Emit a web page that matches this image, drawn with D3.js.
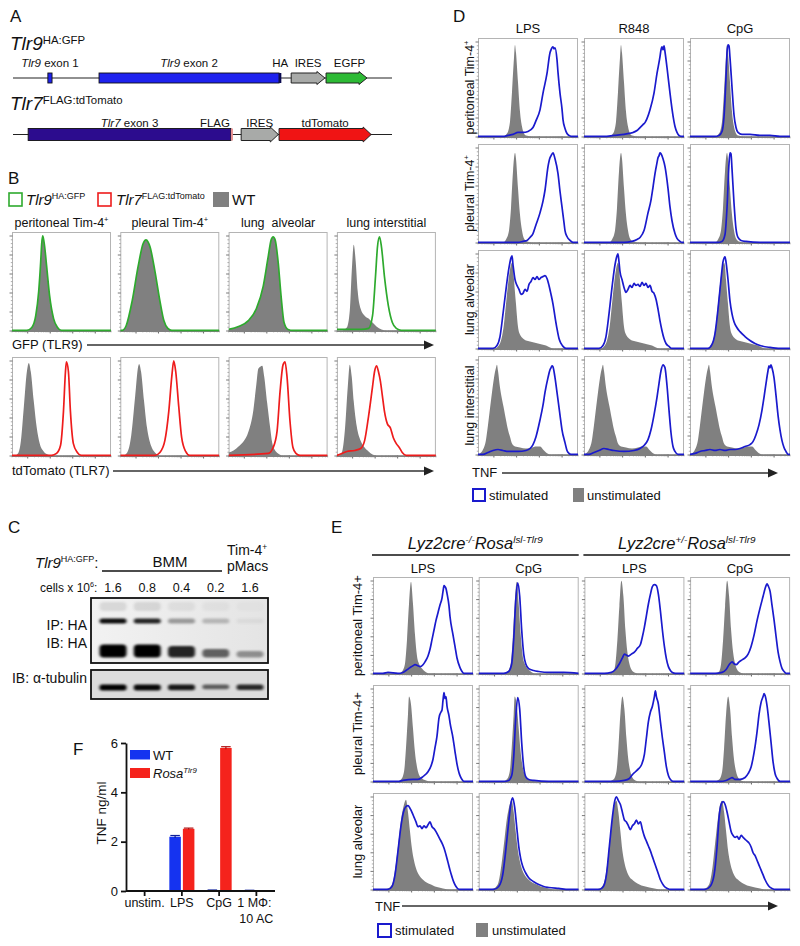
<!DOCTYPE html>
<html><head><meta charset="utf-8">
<script src="https://cdn.jsdelivr.net/npm/d3@7"></script>
<style>
body{margin:0;background:#fff}
svg{display:block}
text{font-family:"Liberation Sans",Arial,Helvetica,sans-serif;fill:#111;white-space:pre}
</style>
</head><body><script>
// ================= DATA =================
// Panel A: gene maps (relative positions along construct, 0-100)
const tlr9Names  = ["<i>Tlr9</i> exon 1","<i>Tlr9</i> exon 2","HA","IRES","EGFP"];
const tlr9Starts = [9.2, 22.7, 70.2, 73.4, 82.6];
const tlr9Ends   = [10.3, 70.2, 70.8, 82.3, 93.4];
const tlr9Kinds  = ["exon","exon","tagHA","ires","gfp"];
const tlr7Names  = ["<i>Tlr7</i> exon 3","FLAG","IRES","tdTomato"];
const tlr7Starts = [4.0, 57.5, 60.2, 70.2];
const tlr7Ends   = [57.5, 58.0, 70.0, 94.5];
const tlr7Kinds  = ["exon7","tagFLAG","ires","tomato"];

// Panel B: flow histograms (x: 0-100 of log scale, y: % of max)
const bTitles = ["peritoneal Tim-4<sup>+</sup>","pleural Tim-4<sup>+</sup>","lung  alveolar","lung interstitial"];
const gfpPer   = [0,0, 15,0, 20,3, 24,15, 27,40, 29,70, 30,88, 31,96, 32,92, 33,85, 35,65, 38,35, 42,12, 46,3, 50,0, 100,0];
const gfpPle   = [0,0, 2,0, 6,5, 12,30, 18,65, 23,88, 26,92, 28,90, 30,85, 35,60, 40,30, 44,10, 48,2, 52,0, 100,0];
const gfpAlv   = [0,1, 10,4, 20,10, 28,22, 35,45, 40,75, 43,92, 45,95, 47,92, 50,70, 53,35, 56,8, 60,1, 65,0, 100,0];
const gfpIntWT = [0,0, 5,0, 10,3, 13,20, 15,60, 17,87, 19,70, 21,40, 24,22, 28,15, 32,12, 36,8, 40,4, 45,1, 50,0, 100,0];
const gfpIntKI = [0,1, 25,1, 32,2, 36,15, 39,55, 41,85, 43,95, 45,85, 48,55, 52,25, 56,8, 60,2, 65,0, 100,0];
const tomPerWT = [0,0, 3,0, 6,2, 9,15, 12,50, 15,85, 17,94, 19,85, 22,55, 25,28, 28,12, 32,4, 36,1, 40,0, 100,0];
const tomPerKI = [0,0, 40,0, 45,2, 49,10, 52,45, 54,85, 55,95, 57,85, 59,45, 62,12, 66,3, 70,0, 100,0];
const tomPleWT = [0,0, 3,0, 7,3, 11,20, 15,60, 18,90, 19,93, 21,85, 24,55, 27,28, 31,10, 35,3, 40,0, 100,0];
const tomPleKI = [0,0, 35,0, 40,3, 45,15, 49,45, 52,80, 54,96, 56,85, 59,50, 62,18, 66,4, 70,0, 100,0];
const tomAlvWT = [0,3, 5,5, 10,9, 15,14, 20,24, 25,46, 28,72, 30,88, 32,90, 34,91, 36,80, 39,53, 42,28, 44,13, 47,5, 50,2, 54,0, 100,0];
const tomAlvKI = [0,0, 40,2, 45,8, 49,25, 52,65, 55,92, 57,95, 59,80, 62,35, 65,8, 68,2, 72,0, 100,0];
const tomIntWT = [0,0, 2,0, 5,3, 8,25, 11,70, 13,92, 15,80, 17,55, 20,30, 24,15, 28,8, 32,4, 36,1, 40,0, 100,0];
const tomIntKI = [0,0, 5,2, 10,4, 18,5, 24,7, 28,15, 32,40, 36,70, 38,85, 40,91, 42,85, 44,75, 46,60, 48,45, 51,32, 54,28, 57,18, 60,12, 63,8, 66,3, 70,0, 100,0];
const bGfpWT  = [gfpPer, gfpPle, gfpAlv, gfpIntWT];
const bGfpKI  = [gfpPer, gfpPle, gfpAlv, gfpIntKI];
const bTomWT  = [tomPerWT, tomPleWT, tomAlvWT, tomIntWT];
const bTomKI  = [tomPerKI, tomPleKI, tomAlvKI, tomIntKI];

// Panel C: western blot
const cLanes = ["1.6","0.8","0.4","0.2","1.6"];
const cSmear = [0.10, 0.10, 0.06, 0.04, 0.02];
const cUpper = [0.95, 0.85, 0.35, 0.22, 0.05];
const cLower = [1.0, 1.0, 0.80, 0.45, 0.18];
const cTubulin = [1.0, 0.95, 0.85, 0.40, 0.75];

// Panel D
const dCols = ["LPS","R848","CpG"];
const dRows = ["peritoneal Tim-4<sup>+</sup>","pleural Tim-4<sup>+</sup>","lung alveolar","lung interstitial"];
const dGrayPer = [0,0, 25,0, 29,3, 32,15, 34,45, 36,80, 37,93, 38,85, 40,55, 42,25, 44,10, 46,3, 48,1, 55,0, 100,0];
const dGrayPle = [0,0, 25,0, 28,3, 31,12, 33,35, 35,72, 37,91, 38,85, 40,55, 42,28, 44,12, 46,4, 49,1, 55,0, 100,0];
const dGrayAlv = [0,0, 17,0, 20,2, 23,8, 26,25, 28,45, 30,65, 32,80, 34,87, 35,84, 36,70, 38,45, 40,22, 42,14, 44,11, 48,8, 52,7, 56,6, 60,5, 64,4, 68,3, 72,1, 76,0, 100,0];
const dGrayInt = [0,0, 2,1, 5,5, 8,15, 10,30, 13,55, 16,78, 18,88, 19,91, 20,85, 22,68, 24,56, 26,46, 28,35, 30,25, 32,18, 34,11, 37,8, 42,7, 48,6, 54,7, 58,8, 62,8, 65,5, 68,2, 72,0, 100,0];
const dPerLPS  = [0,0, 25,0, 30,1, 35,2, 40,4, 45,4, 50,5, 55,9, 58,16, 62,27, 65,44, 69,64, 72,85, 73,88, 74,90, 75,91, 76,89, 77,90, 79,78, 80,65, 82,44, 84,28, 85,17, 87,8, 89,3, 91,1, 93,0, 100,0];
const dPerR848 = [0,0, 20,0, 30,1, 40,2, 45,3, 49,4, 53,6, 56,9, 59,12, 61,14, 63,18, 66,27, 70,44, 73,64, 76,81, 77,88, 78,91, 79,88, 80,92, 81,86, 83,70, 86,44, 88,28, 90,15, 91,10, 93,4, 95,1, 98,0, 100,0];
const dPerCpG  = [0,0, 25,0, 29,1, 32,5, 34,20, 36,60, 37,85, 38,93, 39,92, 40,80, 42,50, 44,22, 46,9, 48,4, 52,2, 60,2, 70,1, 80,1, 90,0, 100,0];
const dPleLPS  = [0,0, 40,0, 45,1, 49,2, 52,5, 55,9, 58,18, 62,30, 65,42, 67,53, 70,77, 72,86, 73,88, 75,91, 77,85, 80,70, 82,52, 84,36, 86,20, 87,12, 89,6, 92,2, 95,0, 100,0];
const dPleR848 = [0,0, 40,0, 48,1, 53,3, 56,5, 60,12, 64,30, 67,43, 69,56, 71,70, 73,81, 74,86, 75,88, 76,91, 77,90, 79,85, 81,77, 84,55, 86,36, 88,22, 91,9, 93,4, 96,1, 98,0, 100,0];
const dPleCpG  = [0,0, 28,0, 32,1, 35,8, 37,35, 39,80, 40,91, 41,90, 42,75, 44,40, 46,14, 48,5, 51,2, 56,1, 70,0, 100,0];
const dAlvLPS  = [0,0, 15,0, 19,3, 22,12, 25,35, 28,60, 31,82, 33,92, 34,94, 35,85, 37,70, 39,64, 41,60, 43,55, 45,56, 47,60, 49,58, 51,65, 53,68, 55,72, 57,70, 59,73, 61,70, 63,72, 65,73, 67,74, 69,71, 71,64, 73,55, 75,45, 77,32, 79,20, 81,10, 83,5, 85,2, 88,0, 100,0];
const dAlvR848 = [0,0, 15,0, 19,3, 22,12, 25,35, 28,62, 31,85, 33,94, 34,96, 35,88, 36,78, 38,70, 40,62, 42,57, 44,60, 46,64, 48,62, 50,66, 52,64, 54,65, 56,63, 58,67, 60,64, 62,66, 64,62, 66,64, 68,58, 70,56, 72,50, 74,40, 76,28, 78,18, 80,10, 82,5, 85,2, 88,0, 100,0];
const dAlvCpG  = [0,0, 18,0, 22,4, 25,15, 28,40, 31,70, 33,88, 35,93, 36,88, 38,70, 40,48, 42,35, 44,27, 47,21, 50,17, 55,12, 60,8, 65,5, 70,3, 80,1, 90,0, 100,0];
const dIntLPS  = [0,0, 5,0, 10,2, 15,4, 20,5, 25,4, 30,3, 40,3, 48,4, 52,6, 55,10, 58,18, 62,35, 65,50, 67,63, 70,78, 72,86, 73,88, 74,90, 75,89, 77,78, 79,63, 82,40, 84,25, 87,12, 89,4, 91,1, 93,0, 100,0];
const dIntR848 = [0,0, 5,0, 10,2, 15,4, 20,6, 25,5, 30,4, 40,3, 50,4, 56,6, 60,9, 64,15, 67,25, 70,40, 73,58, 75,72, 77,85, 79,91, 80,90, 81,88, 83,70, 85,45, 87,22, 89,8, 91,3, 94,0, 100,0];
const dIntCpG  = [0,0, 5,1, 10,3, 15,4, 20,5, 25,4, 30,5, 35,4, 40,5, 45,5, 50,6, 55,8, 60,10, 63,13, 66,20, 69,30, 72,45, 74,58, 76,72, 78,85, 79,90, 80,88, 81,91, 82,88, 84,78, 86,60, 88,40, 90,25, 92,14, 94,7, 96,3, 98,0, 100,0];
const dGray = [dGrayPer, dGrayPle, dGrayAlv, dGrayInt];
const dStim = [[dPerLPS, dPerR848, dPerCpG],[dPleLPS, dPleR848, dPleCpG],[dAlvLPS, dAlvR848, dAlvCpG],[dIntLPS, dIntR848, dIntCpG]];

// Panel E
const eGenotypes = ["<i>Lyz2cre<sup>-/-</sup>Rosa<sup>lsl-Tlr9</sup></i>","<i>Lyz2cre<sup>+/-</sup>Rosa<sup>lsl-Tlr9</sup></i>"];
const eCols = ["LPS","CpG","LPS","CpG"];
const eRows = ["peritoneal Tim-4+","pleural Tim-4+","lung alveolar"];
const eGrayPerKO  = [0,0, 26,0, 29,2, 32,10, 34,35, 36,72, 38,95, 40,72, 42,40, 44,18, 46,10, 49,5, 52,2, 56,0, 100,0];
const eGrayPerHet = [0,0, 25,0, 29,2, 31,10, 33,35, 35,70, 37,96, 39,80, 41,45, 43,22, 45,10, 47,4, 50,1, 54,0, 100,0];
const eGrayPleKO  = [0,0, 24,0, 28,2, 31,10, 33,35, 35,70, 36,88, 38,80, 40,55, 42,30, 44,15, 46,7, 49,3, 53,1, 58,0, 100,0];
const eGrayPleHet = [0,0, 24,0, 29,2, 32,10, 34,35, 36,70, 38,88, 40,75, 42,45, 44,22, 46,10, 48,4, 51,1, 55,0, 100,0];
const eGrayAlvKO  = [0,0, 10,0, 15,1, 19,5, 22,20, 25,45, 28,72, 31,88, 33,93, 35,80, 37,60, 39,42, 41,30, 43,22, 46,15, 50,10, 54,7, 58,5, 62,3, 66,2, 70,1, 75,0, 100,0];
const eGrayAlvHet = [0,0, 10,0, 15,1, 19,5, 22,20, 25,48, 28,75, 30,88, 32,92, 34,80, 36,60, 38,40, 40,28, 42,20, 45,13, 49,9, 53,6, 57,4, 61,3, 65,2, 70,1, 75,0, 100,0];
const ePerLPS_KO  = [0,0, 10,0, 15,1, 25,0, 30,1, 33,3, 37,6, 40,8, 42,9, 45,8, 47,7, 50,9, 52,12, 55,18, 57,25, 59,35, 61,45, 63,55, 65,63, 67,71, 69,78, 70,85, 71,91, 72,90, 73,88, 74,83, 76,70, 77,59, 80,40, 82,28, 84,16, 87,6, 89,2, 91,0, 100,0];
const ePerCpG_KO  = [0,0, 25,0, 30,2, 33,10, 35,35, 37,75, 39,94, 41,80, 43,45, 45,20, 47,10, 50,5, 55,3, 60,2, 70,1, 85,1, 100,0];
const ePerLPS_Het = [0,0, 20,0, 27,1, 31,4, 35,10, 38,16, 40,20, 42,19, 44,18, 47,20, 50,22, 53,26, 56,30, 58,38, 60,48, 62,60, 64,72, 66,82, 68,90, 70,92, 72,91, 74,82, 76,65, 78,45, 80,28, 82,15, 84,7, 86,3, 88,1, 91,0, 100,0];
const ePerCpG_Het = [0,0, 25,0, 32,1, 36,4, 39,9, 42,12, 44,10, 46,9, 49,12, 52,14, 55,16, 58,20, 61,28, 64,40, 67,55, 70,68, 73,80, 75,88, 77,93, 78,91, 80,85, 82,70, 84,55, 86,38, 88,22, 90,12, 92,5, 94,2, 96,0, 100,0];
const ePleLPS_KO  = [0,0, 25,0, 30,1, 40,2, 45,2, 50,5, 55,10, 58,16, 60,23, 62,35, 64,47, 66,66, 68,72, 69,74, 70,84, 71,92, 72,86, 73,88, 74,78, 76,68, 77,61, 80,45, 82,31, 84,18, 86,9, 87,6, 89,2, 91,0, 100,0];
const ePleCpG_KO  = [0,0, 25,0, 30,1, 33,6, 35,25, 37,65, 39,87, 41,75, 43,40, 45,15, 47,5, 50,2, 55,1, 70,0, 100,0];
const ePleLPS_Het = [0,0, 30,0, 40,1, 45,3, 48,7, 51,10, 54,13, 57,17, 60,28, 62,45, 64,62, 66,72, 68,78, 70,88, 71,94, 72,88, 74,80, 76,62, 78,45, 80,30, 82,15, 84,6, 86,2, 89,0, 100,0];
const ePleCpG_Het = [0,0, 30,0, 36,1, 40,3, 42,4, 45,2, 50,2, 55,4, 58,8, 61,15, 64,30, 67,52, 69,70, 71,82, 73,88, 74,91, 75,89, 77,78, 79,60, 81,40, 83,20, 85,8, 87,3, 90,0, 100,0];
const eAlvLPS_KO  = [0,0, 15,0, 19,3, 22,15, 25,40, 28,66, 31,82, 33,86, 35,87, 37,84, 39,80, 41,75, 43,70, 45,65, 47,66, 49,63, 51,66, 53,64, 55,67, 57,70, 59,65, 61,63, 63,60, 65,56, 67,52, 69,48, 71,43, 73,36, 75,28, 77,20, 79,13, 81,7, 83,3, 86,0, 100,0];
const eAlvCpG_KO  = [0,0, 15,0, 20,3, 24,15, 27,40, 30,70, 32,88, 34,95, 36,85, 38,65, 40,45, 42,32, 44,24, 47,17, 50,12, 55,8, 60,5, 65,3, 70,2, 80,1, 90,0, 100,0];
const eAlvLPS_Het = [0,0, 15,0, 19,3, 22,15, 25,45, 28,75, 30,90, 32,96, 34,92, 36,88, 38,80, 40,72, 42,70, 44,66, 46,62, 48,66, 50,68, 52,72, 54,68, 56,70, 58,62, 60,55, 62,50, 64,45, 66,40, 68,34, 70,28, 72,22, 74,16, 76,10, 78,6, 80,3, 83,1, 86,0, 100,0];
const eAlvCpG_Het = [0,0, 15,0, 20,3, 24,15, 27,45, 29,75, 31,88, 33,91, 35,88, 37,80, 39,70, 41,60, 43,56, 45,54, 47,55, 49,52, 51,56, 53,54, 55,52, 57,50, 59,48, 61,44, 63,38, 65,35, 67,30, 69,25, 71,20, 73,15, 75,10, 77,6, 79,3, 82,1, 85,0, 100,0];
const eGray = [[eGrayPerKO, eGrayPerHet],[eGrayPleKO, eGrayPleHet],[eGrayAlvKO, eGrayAlvHet]];
const eStim = [[ePerLPS_KO, ePerCpG_KO, ePerLPS_Het, ePerCpG_Het],
               [ePleLPS_KO, ePleCpG_KO, ePleLPS_Het, ePleCpG_Het],
               [eAlvLPS_KO, eAlvCpG_KO, eAlvLPS_Het, eAlvCpG_Het]];

// Panel F: TNF ELISA
const fCats = ["unstim.","LPS","CpG","1 MΦ:|10 AC"];
const fWT = [0, 2.2, 0.03, 0.02];
const fRosa = [0, 2.52, 5.8, 0];
const fWTerr = [0, 0.05, 0.01, 0.01];
const fRosaErr = [0, 0.03, 0.05, 0];
const fTicks = [0, 2, 4, 6];

// ================= DRAWING =================
const BLUE = "#1a1acd", GRAY = "#808080", GREEN = "#2eaa2e", RED = "#ee1c1c";
const svg = d3.select("body").append("svg").attr("width", 800).attr("height", 946);
svg.append("rect").attr("width", 800).attr("height", 946).attr("fill", "#fff");
const defs = svg.append("defs");
const blur = defs.append("filter").attr("id", "blur").attr("x", "-50%").attr("y", "-150%").attr("width", "200%").attr("height", "400%");
blur.append("feGaussianBlur").attr("stdDeviation", "1.6 1.1");

function rich(g, x, y, markup, size, anchor, opt) {
  opt = opt || {};
  const supShift = opt.supShift || 0.38, supScale = opt.supScale || 0.6;
  const t = g.append("text").attr("x", x).attr("y", y).attr("font-size", size).attr("text-anchor", anchor || "start");
  if (opt.rotate) t.attr("transform", `rotate(-90 ${x} ${y})`);
  const toks = markup.split(/(<\/?i>|<\/?sup>)/).filter(s => s !== "");
  let it = false, sup = false, cur = 0;
  toks.forEach(tok => {
    if (tok === "<i>") { it = true; return; }
    if (tok === "</i>") { it = false; return; }
    if (tok === "<sup>") { sup = true; return; }
    if (tok === "</sup>") { sup = false; return; }
    const s = sup ? -size * supShift : 0;
    const ts = t.append("tspan").text(tok).attr("dy", s - cur);
    cur = s;
    if (it) ts.attr("font-style", "italic");
    if (sup) ts.attr("font-size", size * supScale);
  });
  return t;
}
function letter(x, y, s) { svg.append("text").attr("x", x).attr("y", y).attr("font-size", 17).text(s); }
function arrow(x1, x2, y) {
  svg.append("line").attr("x1", x1).attr("x2", x2 - 8).attr("y1", y).attr("y2", y).attr("stroke", "#333").attr("stroke-width", 1.6);
  svg.append("path").attr("d", `M${x2 - 10},${y - 4.5}L${x2},${y}L${x2 - 10},${y + 4.5}Z`).attr("fill", "#222");
}
const toPts = a => d3.range(0, a.length, 2).map(i => [a[i], a[i + 1]]);
let clipN = 0;
function histPanel(x0, y0, w, h, layers) {
  const g = svg.append("g");
  const x = d3.scaleLinear().domain([0, 100]).range([x0, x0 + w]);
  const y = d3.scaleLinear().domain([0, 100]).range([y0 + h - 0.6, y0]);
  g.append("rect").attr("x", x0 + 0.5).attr("y", y0 + 0.5).attr("width", w - 1).attr("height", h - 1)
    .attr("fill", "none").attr("stroke", "#b4b4b4").attr("stroke-width", 1);
  const yt = d3.scaleLinear().domain([0, 100]).range([y0 + h, y0 + 4]);
  d3.range(0, 101, 4).forEach(v => {
    const major = v % 20 === 0;
    g.append("line").attr("x1", x0 - (major ? 2.5 : 1.2)).attr("x2", x0 + 0.5).attr("y1", yt(v)).attr("y2", yt(v))
      .attr("stroke", major ? "#555" : "#999").attr("stroke-width", 0.8);
  });
  const xl = d3.scaleLog().domain([0.2, 5000]).range([x0, x0 + w]);
  xl.ticks().forEach(v => {
    const major = Math.abs(Math.log10(v) - Math.round(Math.log10(v))) < 1e-9;
    g.append("line").attr("x1", xl(v)).attr("x2", xl(v)).attr("y1", y0 + h - 0.5).attr("y2", y0 + h + (major ? 2.5 : 1.3))
      .attr("stroke", major ? "#444" : "#888").attr("stroke-width", 0.8);
  });
  const id = "clip" + (clipN++);
  defs.append("clipPath").attr("id", id).append("rect").attr("x", x0).attr("y", y0).attr("width", w).attr("height", h + 1.5);
  const inner = g.append("g").attr("clip-path", `url(#${id})`);
  const area = d3.area().x(d => x(d[0])).y0(y0 + h + 1).y1(d => y(d[1])).curve(d3.curveMonotoneX);
  const line = d3.line().x(d => x(d[0])).y(d => y(d[1])).curve(d3.curveMonotoneX);
  layers.forEach(L => {
    if (L.fill) inner.append("path").attr("d", area(toPts(L.data))).attr("fill", L.fill);
    else inner.append("path").attr("d", line(toPts(L.data))).attr("fill", "none").attr("stroke", L.stroke)
      .attr("stroke-width", 1.7).attr("stroke-linejoin", "round");
  });
}

// ---------- Panel A ----------
letter(10, 22, "A");
rich(svg, 10, 50, "<i>Tlr9</i><sup>HA:GFP</sup>", 19, "start", { supShift: 0.33 });
rich(svg, 10, 110, "<i>Tlr7</i><sup>FLAG:tdTomato</sup>", 19, "start", { supShift: 0.33 });
const mapX = d3.scaleLinear().domain([0, 100]).range([13, 392]);
const fillFor = { exon: "#1e22ee", exon7: "#2c0c8e", ires: "#a8aaa8", gfp: "#2dba35", tomato: "#f01414", tagHA: "#0a0a50", tagFLAG: "#e89090" };
function geneMap(names, starts, ends, kinds, yc, hh, labelY) {
  svg.append("line").attr("x1", mapX(0)).attr("x2", mapX(100)).attr("y1", yc).attr("y2", yc).attr("stroke", "#222").attr("stroke-width", 1.1);
  names.forEach((n, i) => {
    const x1 = mapX(starts[i]), x2 = mapX(ends[i]), k = kinds[i];
    if (k === "ires" || k === "gfp" || k === "tomato") {
      const hd = 8;
      svg.append("path").attr("d", `M${x1},${yc - hh}L${x2 - hd},${yc - hh}L${x2 - hd},${yc - hh - 1.5}L${x2},${yc}L${x2 - hd},${yc + hh + 1.5}L${x2 - hd},${yc + hh}L${x1},${yc + hh}Z`)
        .attr("fill", fillFor[k]).attr("stroke", "#222").attr("stroke-width", 1);
    } else if (k.startsWith("tag")) {
      svg.append("rect").attr("x", x1).attr("y", yc - hh).attr("width", Math.max(2, x2 - x1)).attr("height", 2 * hh).attr("fill", fillFor[k]);
    } else {
      svg.append("rect").attr("x", x1).attr("y", yc - hh).attr("width", x2 - x1).attr("height", 2 * hh)
        .attr("fill", fillFor[k]).attr("stroke", "#111").attr("stroke-width", 0.9);
    }
    const anchor = k === "tagFLAG" ? "end" : "middle";
    const lx = k === "tagFLAG" ? x1 - 1 : (x1 + x2) / 2 + (k === "gfp" ? 3 : 0);
    rich(svg, lx, labelY, n, 11.5, anchor);
  });
}
geneMap(tlr9Names, tlr9Starts, tlr9Ends, tlr9Kinds, 78, 5, 67);
geneMap(tlr7Names, tlr7Starts, tlr7Ends, tlr7Kinds, 134.5, 6, 126.5);

// ---------- Panel B ----------
letter(8, 184, "B");
svg.append("rect").attr("x", 9).attr("y", 193).attr("width", 13).attr("height", 13).attr("fill", "none").attr("stroke", GREEN).attr("stroke-width", 1.6);
rich(svg, 26, 205, "<i>Tlr9</i><sup>HA:GFP</sup>", 15, "start");
svg.append("rect").attr("x", 98).attr("y", 193).attr("width", 13).attr("height", 13).attr("fill", "none").attr("stroke", RED).attr("stroke-width", 1.6);
rich(svg, 116, 205, "<i>Tlr7</i><sup>FLAG:tdTomato</sup>", 15, "start");
svg.append("rect").attr("x", 213).attr("y", 192).attr("width", 16).attr("height", 15).attr("fill", GRAY);
rich(svg, 232, 205, "WT", 15, "start");
const bX0 = 12, bStep = 108.3, bW = 99, bH = 99, bRowY = [232, 357];
bTitles.forEach((t, i) => {
  const x0 = bX0 + i * bStep;
  rich(svg, x0 + bW / 2, 227, t, 12.5, "middle");
  histPanel(x0, bRowY[0], bW, bH, [{ fill: GRAY, data: bGfpWT[i] }, { stroke: GREEN, data: bGfpKI[i] }]);
  histPanel(x0, bRowY[1], bW, bH, [{ fill: GRAY, data: bTomWT[i] }, { stroke: RED, data: bTomKI[i] }]);
});
svg.append("text").attr("x", 12).attr("y", 349).attr("font-size", 13).text("GFP (TLR9)");
arrow(87, 434, 345);
svg.append("text").attr("x", 12).attr("y", 475).attr("font-size", 13).text("tdTomato (TLR7)");
arrow(113, 434, 471);

// ---------- Panel C ----------
letter(8, 533, "C");
rich(svg, 35, 568, "<i>Tlr9</i><sup>HA:GFP</sup>:", 15, "start");
svg.append("text").attr("x", 170).attr("y", 567).attr("font-size", 15).attr("text-anchor", "middle").text("BMM");
svg.append("line").attr("x1", 102).attr("x2", 222).attr("y1", 571).attr("y2", 571).attr("stroke", "#111").attr("stroke-width", 1.5);
rich(svg, 227, 555, "Tim-4<sup>+</sup>", 14, "start");
svg.append("text").attr("x", 227).attr("y", 571).attr("font-size", 14).text("pMacs");
rich(svg, 40, 592, "cells x 10<sup>6</sup>:", 12, "start");
const lane = d3.scalePoint().domain(d3.range(cLanes.length)).range([113, 250]);
cLanes.forEach((c, i) => svg.append("text").attr("x", lane(i)).attr("y", 592).attr("font-size", 12.5).attr("text-anchor", "middle").text(c));
const blot1 = { x: 91, y: 598, w: 177, h: 65 }, blot2 = { x: 91, y: 670, w: 177, h: 29 };
const grad = defs.append("linearGradient").attr("id", "blotbg");
grad.append("stop").attr("offset", "0%").attr("stop-color", "#f2f2f2");
grad.append("stop").attr("offset", "100%").attr("stop-color", "#e4e4e4");
svg.append("rect").attr("x", blot1.x).attr("y", blot1.y).attr("width", blot1.w).attr("height", blot1.h).attr("fill", "url(#blotbg)");
svg.append("rect").attr("x", blot2.x).attr("y", blot2.y).attr("width", blot2.w).attr("height", blot2.h).attr("fill", "#dcdcdc");
const bands = svg.append("g").attr("filter", "url(#blur)");
const bandW = 27;
cSmear.forEach((v, i) => bands.append("rect").attr("x", lane(i) - bandW / 2).attr("y", 602).attr("width", bandW).attr("height", 9).attr("rx", 4).attr("fill", "#222").attr("opacity", v));
cUpper.forEach((v, i) => bands.append("rect").attr("x", lane(i) - bandW / 2).attr("y", 618.5).attr("width", bandW).attr("height", 5).attr("rx", 2.5).attr("fill", "#000").attr("opacity", v));
cLower.forEach((v, i) => {
  const hh = 5 + 8 * v;
  bands.append("rect").attr("x", lane(i) - bandW / 2).attr("y", 651 - hh / 2 + (1 - v) * 4).attr("width", bandW).attr("height", hh).attr("rx", 4).attr("fill", "#000").attr("opacity", 0.25 + 0.75 * v);
});
cTubulin.forEach((v, i) => bands.append("rect").attr("x", lane(i) - bandW / 2).attr("y", 684.5).attr("width", bandW).attr("height", 4 + 2 * v).attr("rx", 2.5).attr("fill", "#000").attr("opacity", 0.3 + 0.7 * v));
[blot1, blot2].forEach(b => svg.append("rect").attr("x", b.x).attr("y", b.y).attr("width", b.w).attr("height", b.h).attr("fill", "none").attr("stroke", "#111").attr("stroke-width", 1.8));
svg.append("text").attr("x", 87).attr("y", 630).attr("font-size", 14).attr("text-anchor", "end").text("IP: HA");
svg.append("text").attr("x", 87).attr("y", 648).attr("font-size", 14).attr("text-anchor", "end").text("IB: HA");
svg.append("text").attr("x", 87).attr("y", 683).attr("font-size", 14).attr("text-anchor", "end").text("IB: α-tubulin");

// ---------- Panel D ----------
letter(453, 22, "D");
const dX0 = 478, dStepX = 106, dW = 100, dY0 = 38, dStepY = 106, dH = 99;
dCols.forEach((c, j) => svg.append("text").attr("x", dX0 + j * dStepX + dW / 2).attr("y", 33).attr("font-size", 13).attr("text-anchor", "middle").text(c));
dRows.forEach((r, i) => {
  const y0 = dY0 + i * dStepY;
  rich(svg, 474, y0 + dH / 2, r, 12.5, "middle", { rotate: true });
  dCols.forEach((c, j) => {
    histPanel(dX0 + j * dStepX, y0, dW, dH, [{ fill: GRAY, data: dGray[i] }, { stroke: BLUE, data: dStim[i][j] }]);
  });
});
svg.append("text").attr("x", 472).attr("y", 477).attr("font-size", 13).text("TNF");
arrow(502, 778, 473);
svg.append("rect").attr("x", 473).attr("y", 489).attr("width", 12).attr("height", 12).attr("fill", "none").attr("stroke", BLUE).attr("stroke-width", 2);
svg.append("text").attr("x", 489).attr("y", 500).attr("font-size", 13).text("stimulated");
svg.append("rect").attr("x", 573).attr("y", 488).attr("width", 11).attr("height", 14).attr("fill", GRAY);
svg.append("text").attr("x", 587).attr("y", 500).attr("font-size", 13).text("unstimulated");

// ---------- Panel E ----------
letter(331, 533, "E");
const eX0 = 373, eStepX = 105.7, eW = 100, eY0 = 577, eStepY = 108, eH = 97;
eGenotypes.forEach((gname, k) => {
  const xa = eX0 + 2 * k * eStepX - 1, xb = eX0 + (2 * k + 1) * eStepX + eW;
  svg.append("line").attr("x1", xa).attr("x2", xb).attr("y1", 555).attr("y2", 555).attr("stroke", "#111").attr("stroke-width", 1.5);
  rich(svg, (xa + xb) / 2, 549, gname, 16.5, "middle", { supShift: 0.36, supScale: 0.6 });
});
eCols.forEach((c, j) => svg.append("text").attr("x", eX0 + j * eStepX + eW / 2).attr("y", 573).attr("font-size", 13).attr("text-anchor", "middle").text(c));
eRows.forEach((r, i) => {
  const y0 = eY0 + i * eStepY;
  rich(svg, 362, y0 + eH / 2, r, 13, "middle", { rotate: true });
  eCols.forEach((c, j) => {
    histPanel(eX0 + j * eStepX, y0, eW, eH, [{ fill: GRAY, data: eGray[i][j >> 1] }, { stroke: BLUE, data: eStim[i][j] }]);
  });
});
svg.append("text").attr("x", 375).attr("y", 911).attr("font-size", 13).text("TNF");
arrow(402, 778, 906);
svg.append("rect").attr("x", 378).attr("y", 924).attr("width", 13).attr("height", 13).attr("fill", "none").attr("stroke", BLUE).attr("stroke-width", 2);
svg.append("text").attr("x", 395).attr("y", 935).attr("font-size", 13).text("stimulated");
svg.append("rect").attr("x", 476).attr("y", 923).attr("width", 12).attr("height", 14).attr("fill", GRAY);
svg.append("text").attr("x", 492).attr("y", 935).attr("font-size", 13).text("unstimulated");

// ---------- Panel F ----------
letter(73, 755, "F");
const fx = d3.scaleBand().domain(fCats).range([126, 275]).paddingInner(0).paddingOuter(0);
const fsub = d3.scaleBand().domain(["wt", "rosa"]).range([0, fx.bandwidth()]).paddingInner(0.15).paddingOuter(0.45);
const fy = d3.scaleLinear().domain([0, 6]).range([891, 743]);
const fg = svg.append("g");
const series = [{ key: "wt", vals: fWT, err: fWTerr, color: "#1533f0", dark: "#0d1f9a" }, { key: "rosa", vals: fRosa, err: fRosaErr, color: "#f5231c", dark: "#b01010" }];
series.forEach(s => {
  fCats.forEach((c, i) => {
    const v = s.vals[i];
    if (v <= 0) return;
    const bx = fx(c) + fsub(s.key), bw = fsub.bandwidth();
    fg.append("rect").attr("x", bx).attr("y", fy(v)).attr("width", bw).attr("height", fy(0) - fy(v)).attr("fill", s.color);
    if (s.err[i] > 0) {
      const cx = bx + bw / 2;
      fg.append("line").attr("x1", cx).attr("x2", cx).attr("y1", fy(v + s.err[i])).attr("y2", fy(v - s.err[i])).attr("stroke", s.dark).attr("stroke-width", 1.2);
      fg.append("line").attr("x1", cx - bw / 2 + 1).attr("x2", cx + bw / 2 - 1).attr("y1", fy(v + s.err[i])).attr("y2", fy(v + s.err[i])).attr("stroke", s.dark).attr("stroke-width", 1.2);
    }
  });
});
const yAxis = fg.append("g").attr("transform", "translate(126,0)").call(d3.axisLeft(fy).tickValues(fTicks).tickFormat(d3.format("d")).tickSize(5).tickSizeOuter(0).tickPadding(3));
const xAxis = fg.append("g").attr("transform", "translate(0,891)").call(d3.axisBottom(fx).tickSize(5).tickSizeOuter(0).tickFormat(""));
[yAxis, xAxis].forEach(a => { a.selectAll("path,line").attr("stroke", "#111").attr("stroke-width", 1.8); a.selectAll("text").attr("font-size", 13).attr("fill", "#111").style("font-family", '"Liberation Sans",Arial,sans-serif'); });
xAxis.select(".domain").attr("d", "M126,0H275");
fCats.forEach(c => {
  c.split("|").forEach((ln, k) => fg.append("text").attr("x", fx(c) + fx.bandwidth() / 2 - (k === 0 && c.includes("|") ? 2 : 0)).attr("y", 907 + 16 * k).attr("font-size", 12.5).attr("text-anchor", "middle").text(ln));
});
svg.append("text").attr("transform", "translate(106,813) rotate(-90)").attr("font-size", 13.5).attr("text-anchor", "middle").text("TNF ng/ml");
svg.append("rect").attr("x", 130).attr("y", 750).attr("width", 20).attr("height", 9.5).attr("fill", "#1533f0");
svg.append("text").attr("x", 153).attr("y", 760).attr("font-size", 13).text("WT");
svg.append("rect").attr("x", 130).attr("y", 768).attr("width", 20).attr("height", 10).attr("fill", "#f5231c");
rich(svg, 153, 778, "<i>Rosa</i><sup><i>Tlr9</i></sup>", 13, "start");
</script></body></html>
